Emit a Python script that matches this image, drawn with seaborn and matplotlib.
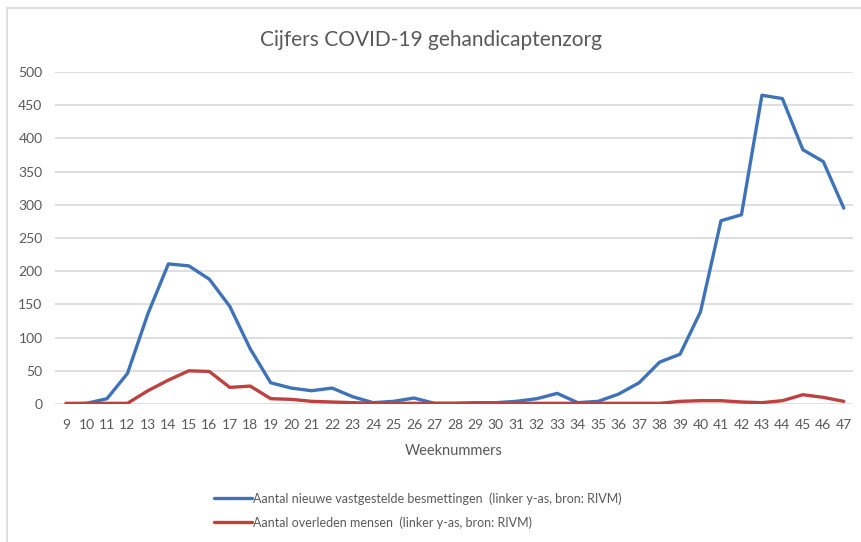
import matplotlib
matplotlib.use("Agg")
import matplotlib.pyplot as plt
from matplotlib.lines import Line2D
import seaborn as sns
import pandas as pd

weeks = list(range(9, 48))
besmettingen = [0, 1, 8, 46, 136, 211, 208, 188, 147, 83, 32, 24, 20, 24, 11, 2,
                4, 9, 1, 1, 2, 2, 4, 8, 16, 2, 4, 15, 32, 63, 75, 139, 276, 285,
                465, 460, 383, 365, 295]
overleden = [1, 1, 1, 1, 20, 36, 50, 49, 25, 27, 8, 7, 4, 3, 2, 1,
             1, 1, 1, 1, 1, 1, 1, 1, 1, 1, 1, 1, 1, 1, 4, 5, 5, 3,
             2, 5, 14, 10, 4]
labels = ["Aantal nieuwe vastgestelde besmettingen  (linker y-as, bron: RIVM)",
          "Aantal overleden mensen  (linker y-as, bron: RIVM)"]
colors = ["#3F73B8", "#BE4140"]

df = pd.DataFrame({"week": weeks, "besm": besmettingen, "overl": overleden})

sns.set_style("white")
plt.rcParams["font.family"] = ["Lato", "DejaVu Sans"]

fig = plt.figure(figsize=(8.62, 5.42), dpi=100)
ax = fig.add_axes([55 / 862, 1 - 404 / 542, 798 / 862, 332 / 542])

sns.lineplot(data=df, x="week", y="besm", color=colors[0], linewidth=2.4,
             label=labels[0], ax=ax, legend=False)
sns.lineplot(data=df, x="week", y="overl", color=colors[1], linewidth=2.4,
             label=labels[1], ax=ax, legend=False)

ax.set_xlim(8.46, 47.45)
ax.set_ylim(0, 500)
ax.set_yticks(range(0, 501, 50))
ax.set_xticks(weeks)
ax.set_xticklabels([str(w) for w in weeks])
ax.yaxis.grid(True, color="#d9d9d9", linewidth=1.2)
ax.set_axisbelow(True)
for s in ax.spines.values():
    s.set_visible(False)
ax.tick_params(axis="both", length=0, labelsize=10, labelcolor="#595959")
ax.tick_params(axis="x", pad=11)
ax.tick_params(axis="y", pad=9)
ax.set_xlabel("Weeknummers", fontsize=10.5, color="#595959", labelpad=9)
ax.set_ylabel("")

fig.text(0.5, 1 - 40 / 542, "Cijfers COVID-19 gehandicaptenzorg",
         ha="center", va="center", fontsize=15, color="#595959")

handles = [Line2D([0], [0], color=c, linewidth=2.4) for c in colors]
fig.legend(handles, labels, loc="upper left",
           bbox_to_anchor=(203 / 862, 1 - 481 / 542), frameon=False,
           fontsize=9, handlelength=3, handletextpad=0.1, labelspacing=0.9,
           labelcolor="#595959")

# chart area border (top and left visible)
fig.add_artist(Line2D([7 / 862, 1], [1 - 8 / 542, 1 - 8 / 542],
                      transform=fig.transFigure, color="#d9d9d9", linewidth=1.2))
fig.add_artist(Line2D([7 / 862, 7 / 862], [0, 1 - 8 / 542],
                      transform=fig.transFigure, color="#d9d9d9", linewidth=1.2))

fig.savefig("out.png", dpi=100)
